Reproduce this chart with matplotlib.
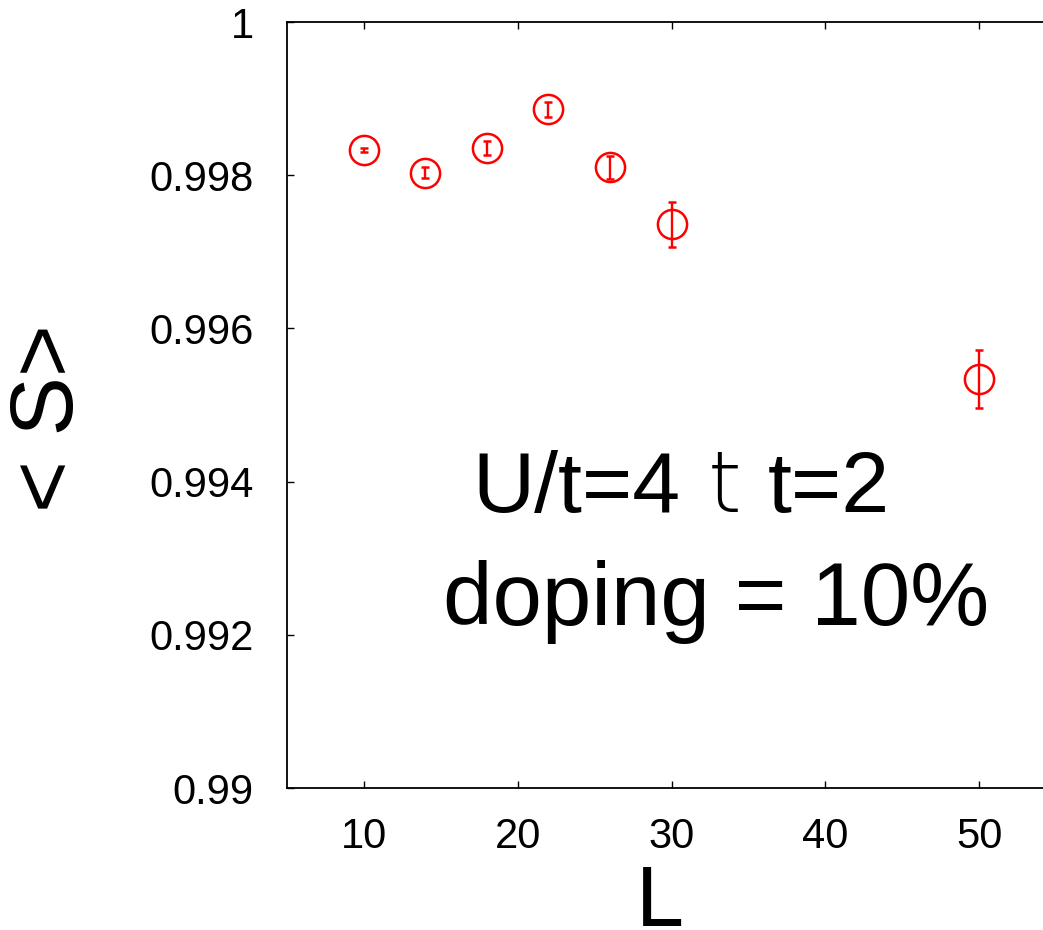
import matplotlib
matplotlib.use("Agg")
import matplotlib.pyplot as plt

# Data
L_values = [10, 14, 18, 22, 26, 30, 50]
S_values = [0.998333, 0.998033, 0.998351, 0.998860, 0.998103, 0.997359, 0.995344]
S_errors = [0.000026, 0.00007, 0.00009, 0.0001, 0.00015, 0.00029, 0.00038]
x_ticks = [10, 20, 30, 40, 50]
y_ticks = [0.99, 0.992, 0.994, 0.996, 0.998, 1.0]
y_ticklabels = ["0.99", "0.992", "0.994", "0.996", "0.998", "1"]

plt.rcParams['font.family'] = ['Liberation Sans', 'DejaVu Sans']

fig = plt.figure(figsize=(10.43, 9.30), dpi=100)
ax = fig.add_axes([287/1043, (930-788)/930, (1056-287)/1043, (788-22)/930])

ax.errorbar(L_values, S_values, yerr=S_errors, fmt='o', color='#ff0000',
            markerfacecolor='none', markeredgecolor='#ff0000', markersize=21,
            markeredgewidth=1.8, elinewidth=1.7, capsize=3, capthick=1.7)

ax.set_xlim(5, 55)
ax.set_ylim(0.99, 1.0)
ax.set_xticks(x_ticks)
ax.set_xticklabels([str(v) for v in x_ticks])
ax.set_yticks(y_ticks)
ax.set_yticklabels(y_ticklabels)
ax.tick_params(direction='in', length=5, width=1, top=True, right=True,
               labelsize=30)
ax.tick_params(axis='x', pad=21)
ax.tick_params(axis='y', pad=24)
for sp in ax.spines.values():
    sp.set_linewidth(1.3)

fig.text(50/1043, 1 - 418/930, "< S>", rotation=90, fontsize=64,
         ha='center', va='center')
fig.text(660/1043, 1 - 926/930, "L", fontsize=62, ha='center', va='baseline')

fig.text(472/1043, 1 - 512/930, "U/t=4", fontsize=62, ha='left', va='baseline')
fig.text(708/1043, 1 - 512/930, "t", fontsize=62, ha='left', va='baseline',
         family='DejaVu Sans', fontweight='light')
fig.text(768/1043, 1 - 512/930, "t=2", fontsize=62, ha='left', va='baseline')
fig.text(443/1043, 1 - 625/930, "doping = 10%", fontsize=64, ha='left',
         va='baseline')

fig.savefig("out.png", dpi=100)
